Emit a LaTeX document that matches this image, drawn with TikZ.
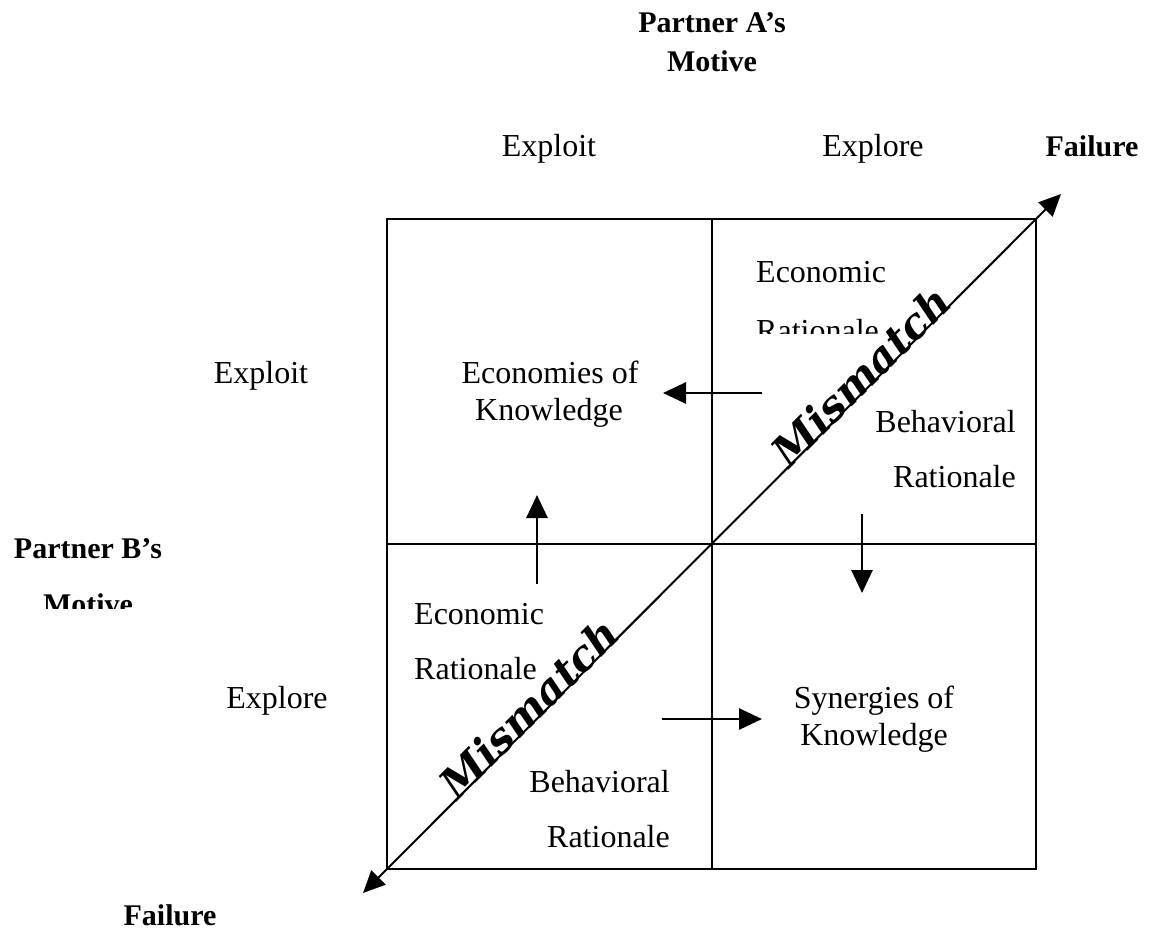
\documentclass[tikz,border=0pt]{standalone}
\usepackage{fontspec}
\setmainfont{Liberation Serif}
\newfontfamily\mismfont{DejaVu Serif}
\usetikzlibrary{arrows.meta}
\tikzset{
  lbl/.style={inner sep=0pt, anchor=base, font=\fontsize{32}{38}\selectfont},
  lbll/.style={lbl, anchor=base west},
  lblr/.style={lbl, anchor=base east},
  bold/.style={inner sep=0pt, anchor=base, font=\fontsize{30}{36}\selectfont\bfseries},
  mism/.style={inner sep=0pt, anchor=base, rotate=45, font=\fontsize{42}{46}\selectfont\mismfont\bfseries\itshape},
  frame/.style={line width=2.1pt},
  arr/.style={line width=2.8pt, -{Triangle[length=23pt,width=21pt]}},
  diag/.style={line width=2pt, {Triangle[length=22pt,width=20pt]}-{Triangle[length=22pt,width=20pt]}}
}
\begin{document}
\begin{tikzpicture}[x=1pt,y=-1pt]
\useasboundingbox (0,0) rectangle (1154,939);
% grid
\coordinate (TL) at (387,219);
\coordinate (TR) at (1036,219);
\coordinate (BL) at (387,869);
\coordinate (BR) at (1036,869);
\coordinate (TM) at (712,219);
\coordinate (BM) at (712,869);
\coordinate (LM) at (387,544);
\coordinate (RM) at (1036,544);
\draw[frame] (TL) -- (TR) -- (BR) -- (BL) -- cycle;
\draw[frame] (TM) -- (BM);
\draw[frame] (LM) -- (RM);
% diagonal
\coordinate (D1) at (363,893);
\coordinate (D2) at (1061,194);
\draw[diag] (D1) -- (D2);
% arrows
\coordinate (a1s) at (762,393); \coordinate (a1e) at (663,393);
\coordinate (a2s) at (537,584); \coordinate (a2e) at (537,495);
\coordinate (a3s) at (862,514); \coordinate (a3e) at (862,593);
\coordinate (a4s) at (662,719); \coordinate (a4e) at (762,719);
\draw[arr] (a1s) -- (a1e);
\draw[arr] (a2s) -- (a2e);
\draw[arr] (a3s) -- (a3e);
\draw[arr] (a4s) -- (a4e);
% headings
\node[bold] (pa1) at (712,33) {Partner A’s};
\node[bold] (pa2) at (712,72) {Motive};
\node[lbl] (tx1) at (549,157) {Exploit};
\node[lbl] (tx2) at (873,157) {Explore};
\node[bold] (f1) at (1092,157) {Failure};
\node[lbl] (ly1) at (261,383) {Exploit};
\node[lbl] (ly2) at (277,708) {Explore};
\node[bold] (pb1) at (88,558) {Partner B’s};
\begin{scope}
\clip (0,570) rectangle (200,608);
\node[bold] (pb2) at (88,614) {Motive};
\end{scope}
\node[bold] (f2) at (170,925) {Failure};
% quadrant texts
\node[lbl] (ek1) at (550,383) {Economies of};
\node[lbl] (ek2) at (549,420) {Knowledge};
\node[lbl] (sk1) at (874,708) {Synergies of};
\node[lbl] (sk2) at (874,745) {Knowledge};
\node[lbll] (tre1) at (756,282) {Economic};
\begin{scope}
\clip (740,295) rectangle (900,333);
\node[lbll] (tre2) at (756,341) {Rationale};
\end{scope}
\node[lblr] (trb1) at (1016,432) {Behavioral};
\node[lblr] (trb2) at (1016,487) {Rationale};
\node[lbll] (ble1) at (414,624) {Economic};
\node[lbll] (ble2) at (414,679) {Rationale};
\node[lblr] (blb1) at (670,792) {Behavioral};
\node[lblr] (blb2) at (670,847) {Rationale};
% mismatch
\node[mism] (m1) at (872,387) {Mismatch};
\node[mism] (m2) at (540,719) {Mismatch};
\end{tikzpicture}
\end{document}
